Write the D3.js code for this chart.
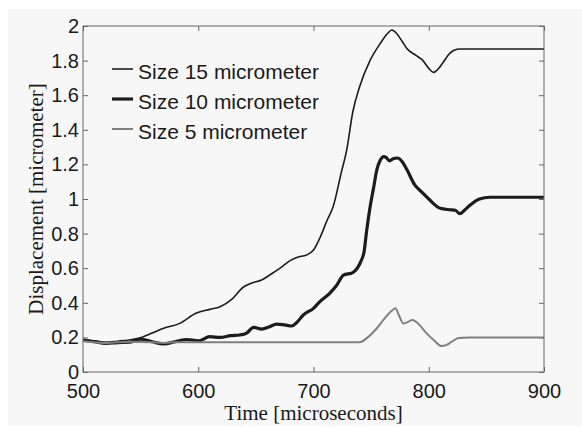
<!DOCTYPE html>
<html>
<head>
<meta charset="utf-8">
<script src="https://cdn.jsdelivr.net/npm/d3@7"></script>
<style>
  html, body { margin: 0; padding: 0; background: #fff; }
  svg { display: block; }
</style>
</head>
<body>
<div id="chart"></div>
<script>
// time [microseconds], displacement [micrometer]
const size15 = [
    [500, 0.185], [510, 0.18], [520, 0.172], [530, 0.178], [540, 0.185], [548, 0.195],
    [560, 0.225], [570, 0.253], [584, 0.281], [598, 0.339], [610, 0.362], [619, 0.377],
    [629, 0.42], [639, 0.49], [646, 0.513], [655, 0.532], [663, 0.565], [671, 0.60],
    [680, 0.645], [686, 0.664], [694, 0.676], [700, 0.705], [706, 0.782], [712, 0.88],
    [717, 0.955], [724, 1.15], [729, 1.29], [734, 1.50], [740, 1.649], [749, 1.80],
    [758, 1.90], [764, 1.955], [768, 1.977], [772, 1.958], [777, 1.91], [781, 1.87],
    [789, 1.83], [795, 1.80], [800, 1.755], [804, 1.732], [808, 1.75], [813, 1.795],
    [818, 1.84], [822, 1.86], [827, 1.867], [900, 1.867]
];
const size10 = [
    [500, 0.185], [510, 0.175], [520, 0.165], [530, 0.17], [540, 0.172], [550, 0.19],
    [560, 0.175], [570, 0.162], [580, 0.175], [590, 0.188], [600, 0.18], [610, 0.204],
    [619, 0.2], [628, 0.21], [636, 0.214], [642, 0.225], [648, 0.258], [655, 0.248],
    [662, 0.262], [668, 0.277], [675, 0.272], [681, 0.266], [686, 0.29], [691, 0.329],
    [700, 0.368], [706, 0.41], [714, 0.455], [720, 0.5], [726, 0.56], [734, 0.575],
    [741, 0.638], [744, 0.70], [746, 0.81], [749, 0.95], [752, 1.06], [755, 1.17],
    [758, 1.225], [761, 1.245], [763, 1.24], [766, 1.22], [769, 1.232], [773, 1.237],
    [777, 1.215], [781, 1.17], [788, 1.08], [794, 1.04], [800, 1.0], [810, 0.946],
    [818, 0.938], [823, 0.935], [827, 0.915], [831, 0.935], [836, 0.965], [844, 1.0],
    [853, 1.01], [900, 1.01]
];
const size5 = [
    [500, 0.178], [520, 0.168], [540, 0.175], [560, 0.172], [570, 0.168], [580, 0.172],
    [600, 0.172], [740, 0.172], [747, 0.2], [755, 0.253], [763, 0.32], [768, 0.355],
    [771, 0.368], [774, 0.33], [778, 0.28], [782, 0.29], [786, 0.30], [790, 0.285],
    [798, 0.225], [805, 0.18], [811, 0.15], [815, 0.155], [820, 0.175], [826, 0.197],
    [835, 0.2], [900, 0.2]
];
const xTicks = [500, 600, 700, 800, 900];
const yTicks = [0, 0.2, 0.4, 0.6, 0.8, 1, 1.2, 1.4, 1.6, 1.8, 2];
const legendLabels = ["Size 15 micrometer", "Size 10 micrometer", "Size 5 micrometer"];

const width = 582, height = 427;
const margin = {top: 26, right: 38, bottom: 55, left: 83};
const innerWidth = width - margin.left - margin.right;
const innerHeight = height - margin.top - margin.bottom;

const series = [
    {data: size15, color: "#1c1c1c", w: 1.6},
    {data: size10, color: "#1c1c1c", w: 3.2},
    {data: size5, color: "#808080", w: 2}
];

const svg = d3.select("#chart").append("svg")
    .attr("width", width)
    .attr("height", height);

// grey figure background
svg.append("rect")
    .attr("x", 8).attr("y", 9)
    .attr("width", width - 8).attr("height", height - 10)
    .attr("fill", "#f7f7f7");

const g = svg.append("g")
    .attr("transform", `translate(${margin.left},${margin.top})`);

const x = d3.scaleLinear().domain([500, 900]).range([0, innerWidth]);
const y = d3.scaleLinear().domain([0, 2]).range([innerHeight, 0]);

const tickFont = "'Liberation Sans', Arial, sans-serif";
const serifFont = "'Liberation Serif', 'Times New Roman', serif";

function styleAxis(sel) {
    sel.select(".domain").remove();
    sel.selectAll("line").attr("stroke", "#666");
    sel.selectAll("text")
        .attr("font-family", tickFont)
        .attr("font-size", "20px")
        .attr("fill", "#1a1a1a");
}

g.append("g")
    .attr("transform", `translate(0,${innerHeight})`)
    .call(d3.axisBottom(x).tickValues(xTicks).tickSizeInner(-5).tickSizeOuter(0).tickPadding(12))
    .call(styleAxis);

g.append("g")
    .call(d3.axisLeft(y).tickValues(yTicks).tickFormat(d3.format("~g")).tickSizeInner(-5).tickSizeOuter(0).tickPadding(4))
    .call(styleAxis);

// top and right ticks, no labels
g.append("g")
    .call(d3.axisTop(x).tickValues(xTicks).tickSizeInner(-5).tickSizeOuter(0))
    .call(styleAxis)
    .call(a => a.selectAll("text").remove());
g.append("g")
    .attr("transform", `translate(${innerWidth},0)`)
    .call(d3.axisRight(y).tickValues(yTicks).tickSizeInner(-5).tickSizeOuter(0))
    .call(styleAxis)
    .call(a => a.selectAll("text").remove());

const line = d3.line()
    .x(d => x(d[0]))
    .y(d => y(d[1]))
    .curve(d3.curveMonotoneX);

series.forEach(s => {
    g.append("path")
        .datum(s.data)
        .attr("fill", "none")
        .attr("stroke", s.color)
        .attr("stroke-width", s.w)
        .attr("stroke-linejoin", "round")
        .attr("d", line);
});

// axes box
g.append("rect")
    .attr("width", innerWidth)
    .attr("height", innerHeight)
    .attr("fill", "none")
    .attr("stroke", "#666")
    .attr("stroke-width", 1);

// legend
const legend = svg.append("g").attr("transform", "translate(112,69)");
legendLabels.forEach((label, i) => {
    const row = legend.append("g").attr("transform", `translate(0,${i * 30})`);
    row.append("line")
        .attr("x1", 0).attr("x2", 21)
        .attr("stroke", series[i].color)
        .attr("stroke-width", series[i].w);
    row.append("text")
        .attr("x", 26).attr("y", 10)
        .attr("font-family", tickFont)
        .attr("font-size", "21px")
        .attr("fill", "#1a1a1a")
        .text(label);
});

// axis titles
svg.append("text")
    .attr("x", margin.left + innerWidth / 2)
    .attr("y", 420)
    .attr("text-anchor", "middle")
    .attr("font-family", serifFont)
    .attr("font-size", "21px")
    .attr("fill", "#1a1a1a")
    .text("Time [microseconds]");

svg.append("text")
    .attr("transform", `translate(43,${margin.top + innerHeight / 2}) rotate(-90)`)
    .attr("text-anchor", "middle")
    .attr("font-family", serifFont)
    .attr("font-size", "21px")
    .attr("fill", "#1a1a1a")
    .text("Displacement [micrometer]");
</script>
</body>
</html>
